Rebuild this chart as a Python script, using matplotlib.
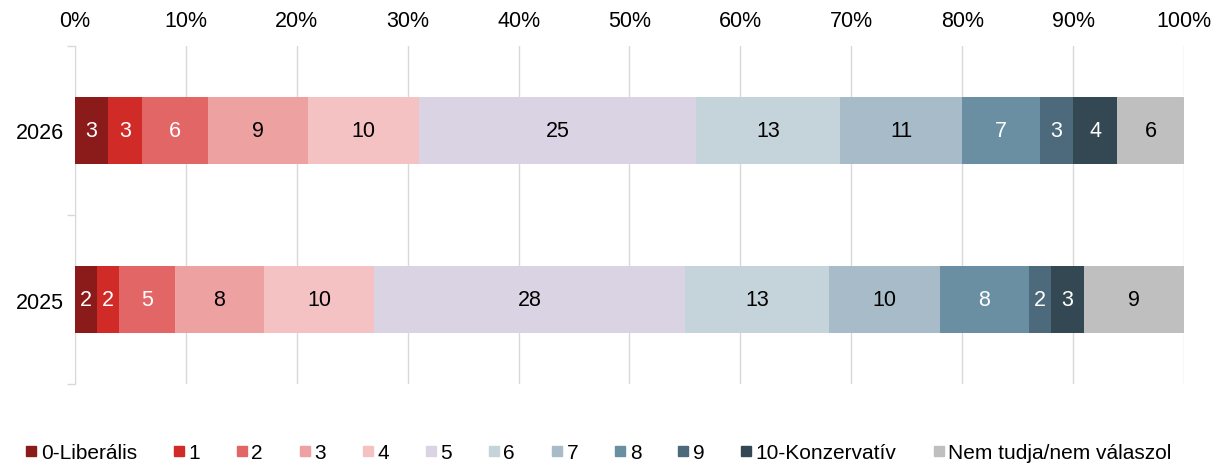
import matplotlib.pyplot as plt
from matplotlib.lines import Line2D

plt.rcParams['font.family'] = ['Liberation Sans', 'DejaVu Sans']

years = ['2025', '2026']
categories = ['0-Liberális', '1', '2', '3', '4', '5', '6', '7', '8', '9',
              '10-Konzervatív', 'Nem tudja/nem válaszol']
values_2025 = [2, 2, 5, 8, 10, 28, 13, 10, 8, 2, 3, 9]
values_2026 = [3, 3, 6, 9, 10, 25, 13, 11, 7, 3, 4, 6]
colors = ['#8b1a1a', '#d12b27', '#e26666', '#eea1a1', '#f4c2c2', '#dad3e3',
          '#c5d3da', '#a7bbc8', '#6a8fa3', '#4d697c', '#344854', '#bfbfbf']
text_colors = ['white', 'white', 'white', 'black', 'black', 'black',
               'black', 'black', 'white', 'white', 'white', 'black']

data = [values_2025, values_2026]

fig = plt.figure(figsize=(12.19, 4.64), dpi=100)
ax = fig.add_axes([0.0615, 0.170, 0.9098, 0.729])

for i, vals in enumerate(data):
    left = 0
    for j, v in enumerate(vals):
        ax.barh(i, v, left=left, height=0.4, color=colors[j], zorder=3)
        ax.text(left + v / 2, i, str(v), ha='center', va='center',
                fontsize=15.5, color=text_colors[j], zorder=4)
        left += v

ax.set_xlim(0, 100)
ax.set_ylim(-0.5, 1.5)
ax.set_xticks(range(0, 101, 10))
ax.set_xticklabels([f'{t}%' for t in range(0, 101, 10)])
ax.xaxis.tick_top()
ax.tick_params(axis='x', length=0, labelsize=15.5, pad=11)
ax.set_yticks([0, 1])
ax.set_yticklabels(years)
ax.tick_params(axis='y', length=0, labelsize=15.5, pad=8)
ax.set_yticks([-0.5, 0.5, 1.5], minor=True)
ax.tick_params(axis='y', which='minor', length=6, color='#d9d9d9', width=1)
ax.grid(axis='x', color='#d9d9d9', linewidth=1, zorder=0)
for s in ['top', 'right', 'bottom']:
    ax.spines[s].set_visible(False)
ax.spines['left'].set_color('#d9d9d9')

handles = [Line2D([], [], marker='s', linestyle='none', markersize=7,
                  color=c) for c in colors]
fig.legend(handles, categories, loc='center left',
           bbox_to_anchor=(25 / 1219, 1 - 454 / 464),
           ncol=12, frameon=False, fontsize=15, handletextpad=0.15,
           columnspacing=1.72, handlelength=0.6, borderpad=0,
           borderaxespad=0)

fig.savefig('out.png')
